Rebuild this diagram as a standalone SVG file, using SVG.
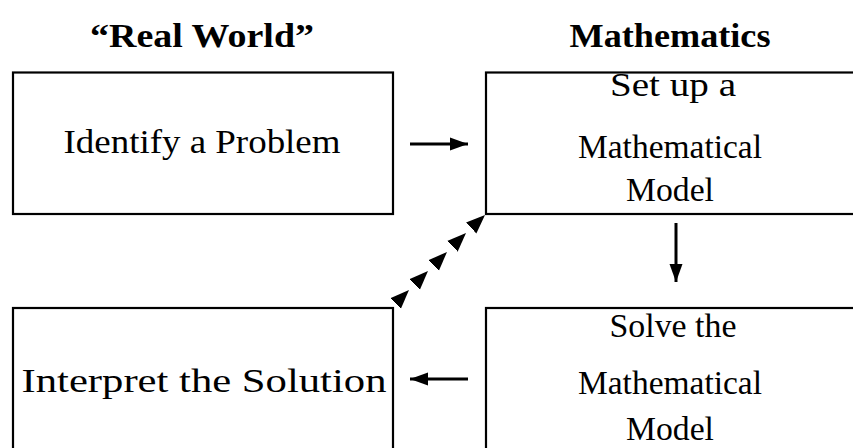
<svg xmlns="http://www.w3.org/2000/svg" width="853" height="448" viewBox="0 0 853 448">
<style>
.box{fill:none;stroke:#000;stroke-width:2.2}
.t{font-family:"Liberation Serif","DejaVu Serif",serif;font-size:34px;fill:#000;text-anchor:middle}
.h{font-family:"Liberation Serif","DejaVu Serif",serif;font-size:34px;font-weight:bold;fill:#000;text-anchor:middle}
.shaft{stroke:#000;stroke-width:3;fill:none}
</style>
<defs>
<marker id="ah" markerUnits="userSpaceOnUse" markerWidth="20" markerHeight="16" viewBox="0 -8 20 16" refX="18" refY="0" orient="auto">
<path d="M0,-6.5 L18,0 L0,6.5 Z" fill="#000"/>
</marker>
<marker id="dh" markerUnits="userSpaceOnUse" markerWidth="22" markerHeight="20" viewBox="0 -10 22 20" refX="19" refY="0" orient="auto">
<path d="M0,-7.5 L19,0 L0,7.5 Z" fill="#000"/>
</marker>
</defs>
<g id="title-real"><text class="h" x="202" y="47" textLength="224" lengthAdjust="spacingAndGlyphs">“Real World”</text></g>
<g id="title-math"><text class="h" x="670" y="47" textLength="201" lengthAdjust="spacingAndGlyphs">Mathematics</text></g>
<g id="identify">
<rect class="box" x="13" y="72.5" width="380" height="141.5"/>
<text class="t" x="202" y="153" textLength="277" lengthAdjust="spacingAndGlyphs">Identify a Problem</text>
</g>
<g id="setup">
<rect class="box" x="486" y="72.5" width="380" height="141.5"/>
<text class="t" x="673" y="96" textLength="126" lengthAdjust="spacingAndGlyphs">Set up a</text>
<text class="t" x="670" y="158" textLength="184" lengthAdjust="spacingAndGlyphs">Mathematical</text>
<text class="t" x="670" y="201" textLength="88" lengthAdjust="spacingAndGlyphs">Model</text>
</g>
<g id="interpret">
<rect class="box" x="13" y="308" width="380" height="160"/>
<text class="t" x="204" y="392" textLength="365" lengthAdjust="spacingAndGlyphs">Interpret the Solution</text>
</g>
<g id="solve">
<rect class="box" x="486" y="308" width="380" height="160"/>
<text class="t" x="673" y="337" textLength="127" lengthAdjust="spacingAndGlyphs">Solve the</text>
<text class="t" x="670" y="394" textLength="184" lengthAdjust="spacingAndGlyphs">Mathematical</text>
<text class="t" x="670" y="440" textLength="88" lengthAdjust="spacingAndGlyphs">Model</text>
</g>
<g id="connectors">
<line class="shaft" x1="410" y1="144" x2="468" y2="144" marker-end="url(#ah)"/>
<line class="shaft" x1="676" y1="223" x2="676" y2="282" marker-end="url(#ah)"/>
<line class="shaft" x1="468" y1="379" x2="410" y2="379" marker-end="url(#ah)"/>
<polyline points="409,290 428,271 447,252 466,233 485,215" fill="none" stroke="none" marker-start="url(#dh)" marker-mid="url(#dh)" marker-end="url(#dh)"/>
</g>
</svg>
